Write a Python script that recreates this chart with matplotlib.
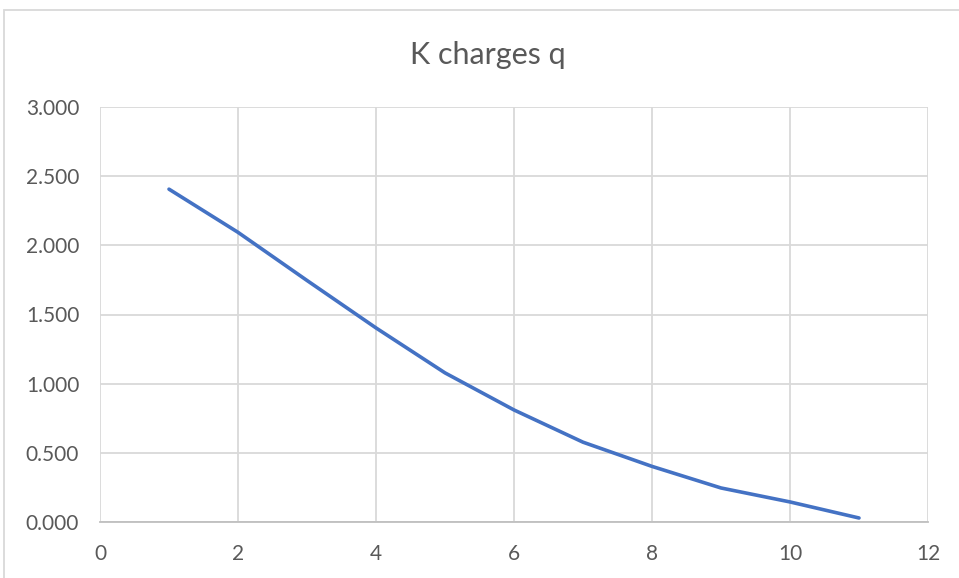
import matplotlib
matplotlib.use('Agg')
import matplotlib.pyplot as plt
from matplotlib.patches import Rectangle
from matplotlib.ticker import FuncFormatter

# K charges q values
k = [1, 2, 3, 4, 5, 6, 7, 8, 9, 10, 11]
q = [2.406, 2.094, 1.746, 1.403, 1.078, 0.810, 0.577, 0.402, 0.246, 0.145, 0.029]

x_ticks = [0, 2, 4, 6, 8, 10, 12]
y_ticks = [0.0, 0.5, 1.0, 1.5, 2.0, 2.5, 3.0]

plt.rcParams['font.family'] = ['Lato', 'DejaVu Sans']

text_col = '#595959'
grid_col = '#d9d9d9'

fig = plt.figure(figsize=(9.59, 5.78), dpi=100)
ax = fig.add_axes([100 / 959, (578 - 522) / 578, 828 / 959, 415 / 578])

# chart frame
fig.patches.append(Rectangle((3.5 / 959, -0.01), 1.0, (578 - 9.5) / 578 + 0.01,
                             transform=fig.transFigure, fill=False,
                             edgecolor=grid_col, linewidth=1.3))

ax.plot(k, q, color='#4472c4', linewidth=2.6, solid_capstyle='round', zorder=3)

ax.set_xlim(0, 12)
ax.set_ylim(0, 3)
ax.set_xticks(x_ticks)
ax.set_yticks(y_ticks)
ax.yaxis.set_major_formatter(FuncFormatter(lambda v, p: f'{v:.3f}'))
ax.grid(True, color=grid_col, linewidth=1.3)
ax.set_axisbelow(True)

for s in ['top', 'right', 'left']:
    ax.spines[s].set_visible(False)
ax.spines['bottom'].set_color('#bfbfbf')
ax.spines['bottom'].set_linewidth(1.3)
ax.spines['bottom'].set_zorder(2)

ax.tick_params(axis='both', length=0, labelsize=15, labelcolor=text_col)
ax.tick_params(axis='y', pad=15)
ax.tick_params(axis='x', pad=16)

fig.text(488 / 959, (578 - 55) / 578, 'K charges q', ha='center', va='center',
         fontsize=22, color=text_col)

plt.savefig('out.png', dpi=100)
